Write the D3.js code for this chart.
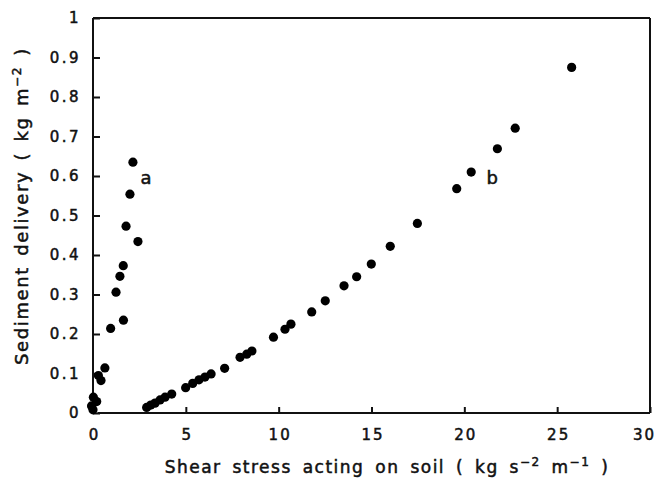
<!DOCTYPE html>
<html><head><meta charset="utf-8">
<script src="https://cdn.jsdelivr.net/npm/d3@7/dist/d3.min.js"></script>
<style>
html,body{margin:0;padding:0;background:#fff;}
svg{display:block;}
text{font-family:"DejaVu Sans",sans-serif;fill:#111;stroke:#111;stroke-width:0.5px;}
</style></head>
<body>
<svg id="chart" width="659" height="479"></svg>
<script>
// Data
const seriesAX = [2.15, 1.99, 1.78, 2.42, 1.63, 1.45, 1.24, 1.64, 0.95, 0.64, 0.29, 0.43, 0.02, 0.20, -0.08, 0.0];
const seriesAY = [0.635, 0.554, 0.473, 0.434, 0.373, 0.346, 0.306, 0.235, 0.214, 0.114, 0.095, 0.082, 0.040, 0.029, 0.018, 0.008];
const seriesBX = [2.89, 3.11, 3.34, 3.61, 3.88, 4.24, 4.99, 5.37, 5.71, 6.03, 6.36, 7.09, 7.92, 8.28, 8.56, 9.72, 10.34, 10.66, 11.78, 12.51, 13.52, 14.20, 14.99, 16.01, 17.47, 19.59, 20.37, 21.78, 22.74, 25.78];
const seriesBY = [0.014, 0.020, 0.025, 0.033, 0.040, 0.048, 0.064, 0.075, 0.084, 0.091, 0.099, 0.113, 0.141, 0.149, 0.157, 0.192, 0.212, 0.225, 0.256, 0.284, 0.322, 0.345, 0.377, 0.422, 0.480, 0.568, 0.610, 0.669, 0.721, 0.875];
const xTicks = [0, 5, 10, 15, 20, 25, 30];
const yTicks = [0, 0.1, 0.2, 0.3, 0.4, 0.5, 0.6, 0.7, 0.8, 0.9, 1];
const yTickLabels = ["0", "0.1", "0.2", "0.3", "0.4", "0.5", "0.6", "0.7", "0.8", "0.9", "1"];
const seriesLabels = [{name: "a", x: 2.85, y: 0.595}, {name: "b", x: 21.5, y: 0.595}];

const svg = d3.select("#chart");
const x = d3.scaleLinear().domain([0, 30]).range([93, 650]);
const y = d3.scaleLinear().domain([0, 1]).range([413, 18]);

// frame
const fr = svg.append("g").attr("stroke", "#111").attr("stroke-width", 2).attr("fill", "none");
fr.append("line").attr("x1", x(0)).attr("x2", x(0)).attr("y1", y(1)).attr("y2", y(0));
fr.append("line").attr("x1", x(0)).attr("x2", x(30)).attr("y1", y(1)).attr("y2", y(1));
fr.append("line").attr("x1", x(30)).attr("x2", x(30)).attr("y1", y(1)).attr("y2", y(0));
fr.append("line").attr("x1", x(0.25)).attr("x2", x(30)).attr("y1", y(0)).attr("y2", y(0));

// axes
const xAxis = d3.axisBottom(x).tickValues(xTicks).tickSizeInner(-6).tickSizeOuter(0).tickPadding(16).tickFormat(d3.format("d"));
const gx = svg.append("g").attr("transform", `translate(0,${y(0)})`).call(xAxis);
gx.select(".domain").remove();
gx.selectAll(".tick line").attr("stroke", "#111").attr("stroke-width", 2);
gx.selectAll(".tick text").attr("font-size", 15).attr("letter-spacing", 2).attr("font-family", "DejaVu Sans")
  .attr("fill", "#111").attr("dx", d => d === 30 ? -6 : 1);

const yAxis = d3.axisLeft(y).tickValues(yTicks).tickSizeInner(-7).tickSizeOuter(0).tickPadding(12)
  .tickFormat((d, i) => yTickLabels[i]);
const gy = svg.append("g").attr("transform", `translate(${x(0)},0)`).call(yAxis);
gy.select(".domain").remove();
gy.selectAll(".tick line").attr("stroke", "#111").attr("stroke-width", 2);
gy.selectAll(".tick text").attr("font-size", 15).attr("letter-spacing", 2.5).attr("font-family", "DejaVu Sans").attr("fill", "#111");

// points
const dataA = seriesAX.map((v, i) => [v, seriesAY[i]]);
const dataB = seriesBX.map((v, i) => [v, seriesBY[i]]);
svg.append("g").selectAll("circle").data(dataA.concat(dataB)).join("circle")
  .attr("cx", d => x(d[0])).attr("cy", d => y(d[1])).attr("r", 4.6).attr("fill", "#000");

// series labels
svg.append("g").selectAll("text").data(seriesLabels).join("text")
  .attr("x", d => x(d.x)).attr("y", d => y(d.y)).attr("text-anchor", "middle")
  .attr("dominant-baseline", "central").attr("font-size", 18).text(d => d.name);

// x axis title
const xt = svg.append("text").attr("x", 387).attr("y", 473).attr("text-anchor", "middle")
  .attr("font-size", 17).attr("letter-spacing", 1.5).attr("word-spacing", 4);
xt.append("tspan").text("Shear  stress  acting on  soil  ( kg s");
xt.append("tspan").attr("dy", -7).attr("font-size", 12).text("−2");
xt.append("tspan").attr("dy", 7).text(" m");
xt.append("tspan").attr("dy", -7).attr("font-size", 12).text("−1");
xt.append("tspan").attr("dy", 7).text(" )");

// y axis title
const yt = svg.append("text").attr("transform", "translate(28,206) rotate(-90)").attr("text-anchor", "middle")
  .attr("font-size", 18).attr("letter-spacing", 1.6).attr("word-spacing", 3);
yt.append("tspan").text("Sediment  delivery ( kg m");
yt.append("tspan").attr("dy", -7).attr("font-size", 12).text("−2");
yt.append("tspan").attr("dy", 7).text(" )");
</script>
</body></html>
